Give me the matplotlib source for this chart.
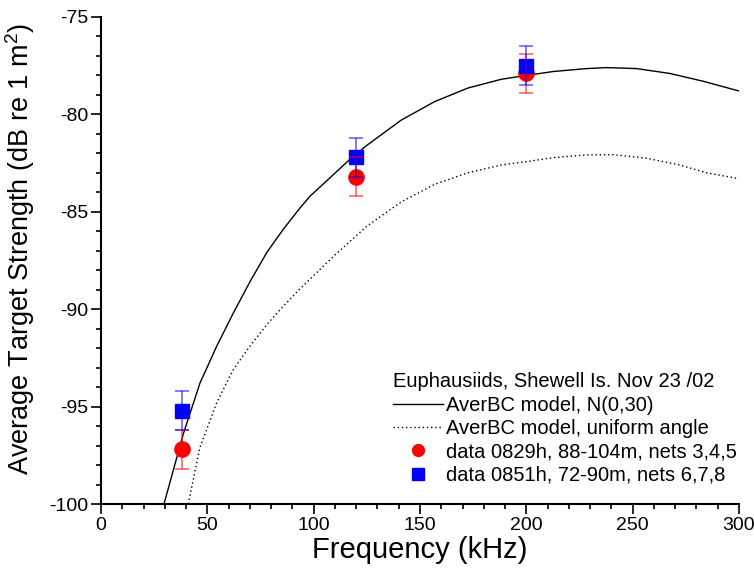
import matplotlib
matplotlib.use("Agg")
import matplotlib.pyplot as plt
from matplotlib.lines import Line2D
from matplotlib.ticker import MultipleLocator

plt.rcParams['font.family'] = ['Liberation Sans', 'DejaVu Sans']
plt.rcParams['axes.unicode_minus'] = False
plt.rcParams['mathtext.fontset'] = 'custom'
plt.rcParams['mathtext.rm'] = 'Liberation Sans'

# model curves
model_n30_f = [29.6, 38.7, 46.5, 54.4, 62.2, 70.0, 77.9, 85.7, 93.6, 98.3, 109.2, 117.1,
               124.9, 141.1, 156.8, 172.5, 188.2, 200.1, 212.7, 228.3, 237.8, 251.9,
               267.5, 283.2, 300.0]
model_n30_ts = [-100.0, -96.4, -93.8, -91.9, -90.2, -88.6, -87.1, -85.9, -84.8, -84.2, -83.1, -82.3,
                -81.6, -80.3, -79.35, -78.65, -78.2, -78.0, -77.8, -77.65, -77.6, -77.65,
                -77.9, -78.3, -78.8]

model_unif_f = [41.0, 46.5, 54.4, 62.2, 70.0, 77.9, 85.7, 93.6, 109.2, 124.9, 141.1, 156.8,
                172.5, 188.2, 201.7, 212.7, 228.3, 240.9, 256.6, 272.2, 284.8, 300.0]
model_unif_ts = [-100.0, -97.1, -94.8, -93.1, -91.9, -90.8, -89.85, -88.95, -87.3, -85.75, -84.5, -83.6,
                 -83.0, -82.6, -82.4, -82.22, -82.08, -82.07, -82.25, -82.6, -83.0, -83.3]

# measurements
freq = [38, 120, 200]
ts_0829 = [-97.2, -83.2, -77.9]
err_0829 = [1.0, 1.0, 1.0]
ts_0851 = [-95.2, -82.2, -77.5]
err_0851 = [1.0, 1.0, 1.0]

fig = plt.figure(figsize=(7.54, 5.69), dpi=100)
ax = fig.add_axes([0.134, 0.1142, 0.846, 0.856])

ax.plot(model_n30_f, model_n30_ts, color='black', lw=1.0)
ax.plot(model_unif_f, model_unif_ts, color='black', lw=1.0, ls=(0, (1, 2)))

ax.plot(freq, ts_0829, 'o', color='red', ms=11, zorder=3)
ax.plot(freq, ts_0851, 's', color='blue', ms=10, zorder=4)
ax.errorbar(freq, ts_0829, yerr=err_0829, fmt='none', ecolor=(1, 0, 0, 0.6),
            elinewidth=1.2, capsize=5, capthick=1.2, zorder=5)
ax.errorbar(freq, ts_0851, yerr=err_0851, fmt='none', ecolor=(0, 0, 1, 0.6),
            elinewidth=1.2, capsize=5, capthick=1.2, zorder=6)

ax.set_xlim(0, 300)
ax.set_ylim(-100, -75)
ax.xaxis.set_major_locator(MultipleLocator(50))
ax.xaxis.set_minor_locator(MultipleLocator(10))
ax.yaxis.set_major_locator(MultipleLocator(5))
ax.yaxis.set_minor_locator(MultipleLocator(1))
for s in ['top', 'right']:
    ax.spines[s].set_visible(False)
for s in ['left', 'bottom']:
    ax.spines[s].set_linewidth(1.5)
ax.tick_params(which='major', direction='out', length=7, width=1.2, labelsize=14, pad=2)
ax.tick_params(which='minor', direction='out', length=3.5, width=1.2)

ax.set_xlabel('Frequency (kHz)', fontsize=21, labelpad=2)
ax.set_ylabel('Average Target Strength (dB re 1 m$^2$)', fontsize=19.5)
ax.yaxis.set_label_coords(-0.10, 0.524)

handles = [
    Line2D([], [], color='black', lw=1.0),
    Line2D([], [], color='black', lw=1.0, ls=(0, (1, 2))),
    Line2D([], [], marker='o', color='red', ls='none', ms=8.5),
    Line2D([], [], marker='s', color='blue', ls='none', ms=8),
]
labels = ['AverBC model, N(0,30)', 'AverBC model, uniform angle',
          'data 0829h, 88-104m, nets 3,4,5', 'data 0851h, 72-90m, nets 6,7,8']
leg = ax.legend(handles, labels, title='Euphausiids, Shewell Is. Nov 23 /02',
                loc='lower right', bbox_to_anchor=(1.0, 0.035), frameon=False,
                fontsize=14.5, title_fontsize=14.5, handlelength=2.5, handletextpad=0.15,
                labelspacing=0.22, borderaxespad=0, borderpad=0.1, alignment='left')

fig.savefig('out.png', dpi=100)
